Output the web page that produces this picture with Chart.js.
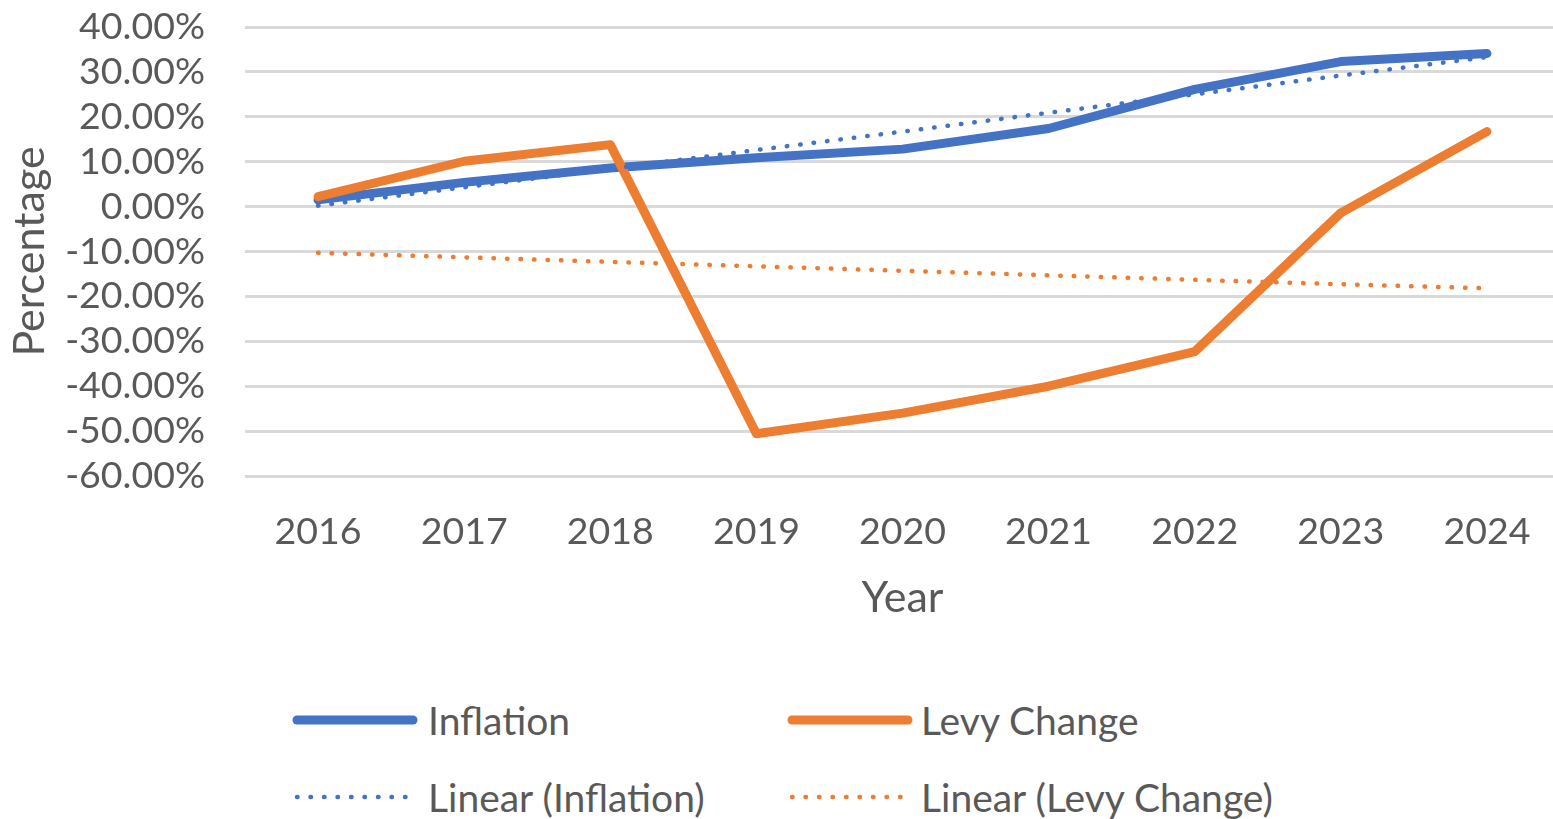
<!DOCTYPE html>
<html><head><meta charset="utf-8">
<script src="https://cdn.jsdelivr.net/npm/chart.js@4.4.0/dist/chart.umd.min.js"></script>
<style>
html,body{margin:0;padding:0;background:#fff;overflow:hidden;width:1553px;height:819px;}
#wrap{position:absolute;left:0;top:0;width:1560px;height:640px;}
.leg{position:absolute;font-family:Lato, sans-serif;font-size:39px;color:#595959;line-height:46px;white-space:nowrap;}
svg{position:absolute;overflow:visible;}
</style></head><body>
<div id="wrap"><canvas id="c" width="1560" height="640" style="width:1560px;height:640px"></canvas></div>
<div id="legend"></div>
<script>
// ---- data ----
const years = ["2016","2017","2018","2019","2020","2021","2022","2023","2024"];
const inflation = [1.5, 5.4, 8.6, 10.9, 12.8, 17.4, 26.1, 32.3, 34.1];
const levyChange = [2.2, 10.1, 13.8, -50.6, -46.0, -40.0, -32.3, -1.4, 16.7];
const linearInflation = [0.2, 4.3, 8.4, 12.6, 16.7, 20.9, 25.0, 29.2, 33.3];
const linearLevy = [-10.3, -11.3, -12.3, -13.3, -14.3, -15.3, -16.3, -17.3, -18.2];
const seriesNames = ["Inflation", "Levy Change", "Linear (Inflation)", "Linear (Levy Change)"];
const yTicks = [-60, -50, -40, -30, -20, -10, 0, 10, 20, 30, 40];

const BLUE = "#4472C4", ORANGE = "#ED7D31", TXT = "#595959";
const FONT = "Lato";

const solid = (label, data, color, order) => ({
  label, data, borderColor: color, backgroundColor: color, borderWidth: 9,
  borderCapStyle: "round", borderJoinStyle: "round", pointRadius: 0, tension: 0, order
});
const dotted = (label, data, color, order) => ({
  label, data, borderColor: color, backgroundColor: color, borderWidth: 4.5,
  borderCapStyle: "round", borderDash: [0.5, 13], pointRadius: 0, tension: 0, order
});

new Chart(document.getElementById("c"), {
  type: "line",
  data: {
    labels: years,
    datasets: [
      solid(seriesNames[0], inflation, BLUE, 3),
      solid(seriesNames[1], levyChange, ORANGE, 2),
      dotted(seriesNames[2], linearInflation, BLUE, 1),
      dotted(seriesNames[3], linearLevy, ORANGE, 0)
    ]
  },
  options: {
    responsive: false,
    animation: false,
    devicePixelRatio: 1,
    layout: { padding: { top: 27, left: 0, right: 0, bottom: 0 } },
    plugins: { legend: { display: false }, tooltip: { enabled: false } },
    scales: {
      x: {
        offset: true,
        grid: { display: false, drawTicks: false },
        border: { display: false },
        ticks: { color: TXT, font: { family: FONT, size: 37.5 }, padding: 33, maxRotation: 0 },
        title: { display: true, text: "Year", color: TXT, font: { family: FONT, size: 43 }, padding: { top: 0, bottom: 16 } },
        afterFit: s => { s.height = 164; s.paddingLeft = 0; s.paddingRight = 0; }
      },
      y: {
        min: yTicks[0], max: yTicks[yTicks.length - 1],
        afterBuildTicks: s => { s.ticks = yTicks.map(v => ({ value: v })); },
        grid: { color: "#D9D9D9", lineWidth: 3, drawTicks: false },
        border: { display: false },
        ticks: { color: TXT, font: { family: FONT, size: 37.5 }, padding: 40, autoSkip: false, callback: v => v.toFixed(2) + "%" },
        title: { display: true, text: "Percentage", color: TXT, font: { family: FONT, size: 43 }, padding: { top: 4, bottom: 0 } },
        afterFit: s => { s.width = 245; s.paddingTop = 0; s.paddingBottom = 0; }
      }
    }
  }
});

// ---- HTML legend (text kept as real text) ----
const legendItems = [
  { name: seriesNames[0], color: BLUE, dash: false, x: 297, len: 116, tx: 428, y: 720 },
  { name: seriesNames[1], color: ORANGE, dash: false, x: 792, len: 116, tx: 921, y: 720 },
  { name: seriesNames[2], color: BLUE, dash: true, x: 297, len: 110, tx: 428, y: 797 },
  { name: seriesNames[3], color: ORANGE, dash: true, x: 792, len: 112, tx: 921, y: 797 }
];
const leg = document.getElementById("legend");
legendItems.forEach(it => {
  const svg = document.createElementNS("http://www.w3.org/2000/svg", "svg");
  svg.setAttribute("width", it.len + 20); svg.setAttribute("height", 20);
  svg.style.left = (it.x - 10) + "px"; svg.style.top = (it.y - 10) + "px";
  const ln = document.createElementNS("http://www.w3.org/2000/svg", "line");
  ln.setAttribute("x1", 10); ln.setAttribute("x2", 10 + it.len);
  ln.setAttribute("y1", 10); ln.setAttribute("y2", 10);
  ln.setAttribute("stroke", it.color);
  ln.setAttribute("stroke-linecap", "round");
  ln.setAttribute("stroke-width", it.dash ? 4.5 : 9);
  if (it.dash) ln.setAttribute("stroke-dasharray", "0.5 13");
  svg.appendChild(ln); leg.appendChild(svg);
  const d = document.createElement("div");
  d.className = "leg"; d.textContent = it.name;
  d.style.left = it.tx + "px"; d.style.top = (it.y - 23) + "px";
  leg.appendChild(d);
});
</script>
</body></html>
